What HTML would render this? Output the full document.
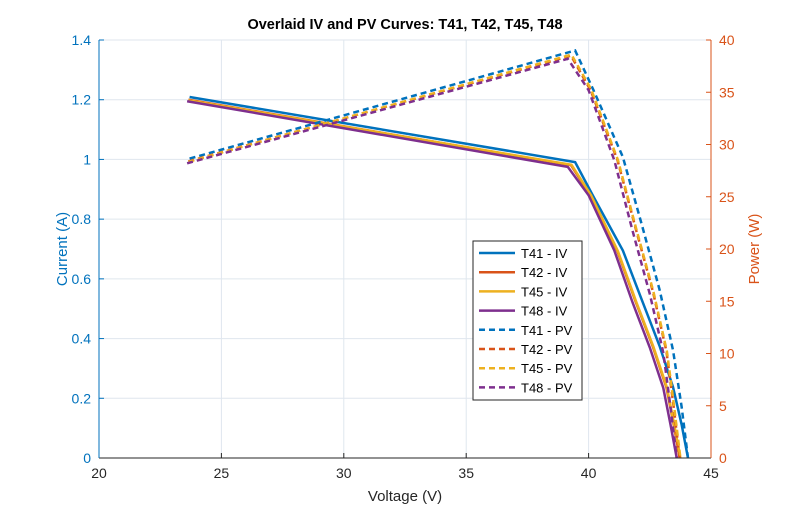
<!DOCTYPE html>
<html><head><meta charset="utf-8"><style>
body{margin:0;background:#fff;}
svg text{font-family:"Liberation Sans",sans-serif;}
</style></head><body>
<svg id="chart" width="787" height="514" xmlns="http://www.w3.org/2000/svg">
<rect width="787" height="514" fill="#fff"/>
<g id="grid"></g>
<g id="series"></g>
<g id="axes"></g>
<text x="405" y="29" text-anchor="middle" font-size="14.5" font-weight="bold" fill="#000">Overlaid IV and PV Curves: T41, T42, T45, T48</text>
<text x="405" y="501" text-anchor="middle" font-size="15" fill="#262626">Voltage (V)</text>
<text transform="translate(67,249) rotate(-90)" text-anchor="middle" font-size="15" fill="#0072BD">Current (A)</text>
<text transform="translate(759,249) rotate(-90)" text-anchor="middle" font-size="15" fill="#D95319">Power (W)</text>
<g id="legend"></g>
</svg>
<script>
const seriesNames=["T41","T42","T45","T48"];
const colors=["#0072BD","#D95319","#EDB120","#7E2F8E"];
const voltT41=[23.7,39.45,40.2,41.4,42.2,42.9,43.45,43.8,44.06];
const voltT42=[23.65,39.28,40.08,41.18,41.93,42.63,43.18,43.48,43.72];
const voltT45=[23.65,39.3,40.1,41.2,41.95,42.65,43.2,43.5,43.75];
const voltT48=[23.6,39.15,40.0,41.05,41.8,42.5,43.05,43.35,43.6];
const currT41=[1.209,0.991,0.875,0.695,0.524,0.375,0.237,0.112,0];
const currT42=[1.2,0.981,0.879,0.692,0.522,0.372,0.236,0.111,0];
const currT45=[1.198,0.982,0.88,0.692,0.522,0.372,0.236,0.111,0];
const currT48=[1.195,0.975,0.88,0.695,0.52,0.37,0.235,0.11,0];
const powT41=[28.65,39.0,35.2,28.8,22.1,16.1,10.3,4.9,0];
const powT42=[28.38,38.5,35.2,28.5,21.9,15.9,10.2,4.8,0];
const powT45=[28.33,38.6,35.3,28.5,21.9,15.9,10.2,4.8,0];
const powT48=[28.2,38.2,35.2,28.5,21.7,15.7,10.1,4.8,0];
const xTicks=[20,25,30,35,40,45];
const yLeftTicks=[0,0.2,0.4,0.6,0.8,1,1.2,1.4];
const yRightTicks=[0,5,10,15,20,25,30,35,40];
const X0=99,X1=711,Y0=458,Y1=40;
const xs=v=>X0+(v-20)/25*(X1-X0);
const yl=v=>Y0-v/1.4*(Y0-Y1);
const yr=v=>Y0-v/40*(Y0-Y1);
const NS="http://www.w3.org/2000/svg";
function mk(tag,attrs,parent){const e=document.createElementNS(NS,tag);for(const k in attrs)e.setAttribute(k,attrs[k]);parent.appendChild(e);return e;}
const grid=document.getElementById('grid'),axes=document.getElementById('axes'),ser=document.getElementById('series'),leg=document.getElementById('legend');
xTicks.forEach(t=>{const x=xs(t);
 const g=mk('line',{x1:x,x2:x,y1:Y1,y2:Y0,stroke:'#dfe6ee','stroke-width':1},grid);
 
 mk('line',{x1:x,x2:x,y1:Y0,y2:Y0-5,stroke:'#262626'},axes);
 const tx=mk('text',{x:x,y:Y0+20,'text-anchor':'middle','font-size':14,fill:'#262626'},axes);tx.textContent=t;
 });
yLeftTicks.forEach(t=>{const y=yl(t);
 const g=mk('line',{x1:X0,x2:X1,y1:y,y2:y,stroke:'#dfe6ee','stroke-width':1},grid);
 
 mk('line',{x1:X0,x2:X0+5,y1:y,y2:y,stroke:'#0072BD'},axes);
 const tx=mk('text',{x:X0-8,y:y+5,'text-anchor':'end','font-size':14,fill:'#0072BD'},axes);tx.textContent=t;
 });
yRightTicks.forEach(t=>{const y=yr(t);
 mk('line',{x1:X1,x2:X1-5,y1:y,y2:y,stroke:'#D95319'},axes);
 const tx=mk('text',{x:X1+8,y:y+5,'font-size':14,fill:'#D95319'},axes);tx.textContent=t;
 });
mk('line',{x1:X0,x2:X1,y1:Y0,y2:Y0,stroke:'#262626'},axes);
mk('line',{x1:X0,x2:X0,y1:Y1,y2:Y0,stroke:'#0072BD'},axes);
mk('line',{x1:X1,x2:X1,y1:Y1,y2:Y0,stroke:'#D95319'},axes);
const V=[voltT41,voltT42,voltT45,voltT48],I=[currT41,currT42,currT45,currT48],P=[powT41,powT42,powT45,powT48];
for(let s=0;s<4;s++){
 const p=mk('polyline',{points:V[s].map((v,i)=>xs(v)+','+yl(I[s][i])).join(' '),fill:'none',stroke:colors[s],'stroke-width':2.5},ser);
 }
for(let s=0;s<4;s++){
 const p=mk('polyline',{points:V[s].map((v,i)=>xs(v)+','+yr(P[s][i])).join(' '),fill:'none',stroke:colors[s],'stroke-width':2.5,'stroke-dasharray':'6,4'},ser);
 }
const lb=mk('rect',{x:473,y:241,width:109,height:159,fill:'#fff',stroke:'#262626','stroke-width':1},leg);

const labels=[];seriesNames.forEach(n=>labels.push(n+' - IV'));seriesNames.forEach(n=>labels.push(n+' - PV'));
labels.forEach((l,i)=>{const y=253+i*19.2;const c=colors[i%4];
 const a={x1:479,x2:515,y1:y,y2:y,stroke:c,'stroke-width':2.5};if(i>=4)a['stroke-dasharray']='6,4';
 mk('line',a,leg);
 const t=mk('text',{x:521,y:y+5,'font-size':13,fill:'#000'},leg);t.textContent=l;
 });
</script>
</body></html>
